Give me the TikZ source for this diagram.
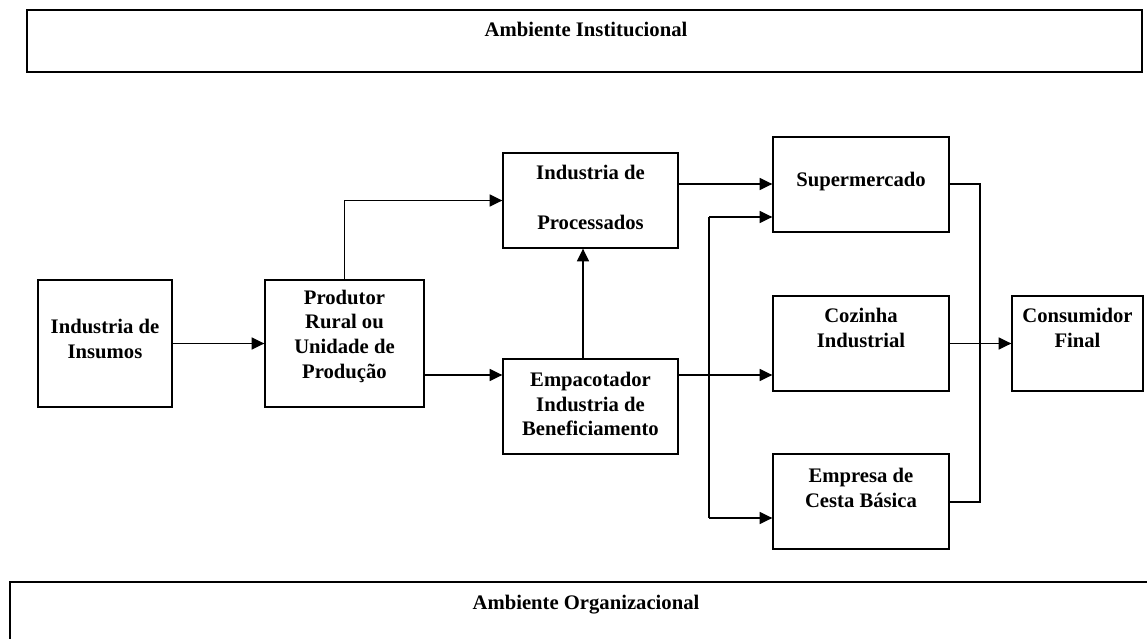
\documentclass[tikz,border=0pt]{standalone}
\usepackage{fontspec}
\setmainfont{Liberation Serif}
\usetikzlibrary{arrows.meta}
\begin{document}
\begin{tikzpicture}[x=0.75pt,y=-0.75pt,
  box/.style={draw,line width=1pt,inner sep=0pt},
  txt/.style={font=\fontsize{15.5}{18.5}\selectfont\bfseries,align=center,inner sep=0pt},
  link/.style={line width=1pt},
  arr/.style={line width=1pt,-{Triangle[length=9.5pt,width=9pt]}}]
\useasboundingbox (0,0) rectangle (1147,639);
% environments
\node[box,minimum width=1115*0.75pt,minimum height=62*0.75pt] (inst) at (584.5,41) {};
\node[txt] (instt) at (586,29) {Ambiente Institucional};
\begin{scope}
\clip (0,0) rectangle (1147,639);
\draw[line width=1pt] (10,700) -- (10,582) -- (1170,582);
\end{scope}
\coordinate (orgc) at (586,605);
\node[txt] (orgt) at (orgc) {Ambiente Organizacional};
% boxes
\node[box,minimum width=134*0.75pt,minimum height=127*0.75pt] (ins) at (105,343.5) {};
\node[txt] at (105,339) {Industria de\\Insumos};
\node[box,minimum width=159*0.75pt,minimum height=127*0.75pt] (prod) at (344.5,343.5) {};
\node[txt] at (344.5,336) {Produtor\\Rural ou\\Unidade de\\Produção};
\node[box,minimum width=175*0.75pt,minimum height=95*0.75pt] (proc) at (590.5,200.5) {};
\node[txt] at (590.5,172) {Industria de};
\node[txt] at (590.5,222) {Processados};
\node[box,minimum width=175*0.75pt,minimum height=95*0.75pt] (emp) at (590.5,406.5) {};
\node[txt] at (590.5,404) {Empacotador\\Industria de\\Beneficiamento};
\node[box,minimum width=176*0.75pt,minimum height=95*0.75pt] (sup) at (861,184.5) {};
\node[txt] at (861,182) {Supermercado};
\node[box,minimum width=176*0.75pt,minimum height=95*0.75pt] (coz) at (861,343.5) {};
\node[txt] at (861,328) {Cozinha\\Industrial};
\node[box,minimum width=176*0.75pt,minimum height=95*0.75pt] (ces) at (861,501.5) {};
\node[txt] at (861,488) {Empresa de\\Cesta Básica};
\node[box,minimum width=131*0.75pt,minimum height=95*0.75pt] (con) at (1077.5,343.5) {};
\node[txt] at (1077.5,328) {Consumidor\\Final};
% connectors
\draw[arr] (ins.east) -- (prod.west);
\draw[arr] (prod.north) |- (proc.west);
\draw[arr] (prod.east |- 0,375) -- (emp.west |- 0,375);
\draw[arr] (emp.north -| 583,0) -- (proc.south -| 583,0);
\draw[arr] (proc.east |- 0,184) -- (sup.west |- 0,184);
\draw[arr] (emp.east |- 0,375) -- (coz.west |- 0,375);
\coordinate (bt) at (709,217);
\coordinate (bb) at (709,518);
\draw[link] (bt) -- (bb);
\draw[arr] (bt) -- (sup.west |- bt);
\draw[arr] (bb) -- (ces.west |- bb);
\coordinate (ct) at (980,184);
\coordinate (cb) at (980,502);
\draw[link] (sup.east |- ct) -- (ct) -- (cb) -- (ces.east |- cb);
\draw[arr] (coz.east) -- (con.west);
\end{tikzpicture}
\end{document}
